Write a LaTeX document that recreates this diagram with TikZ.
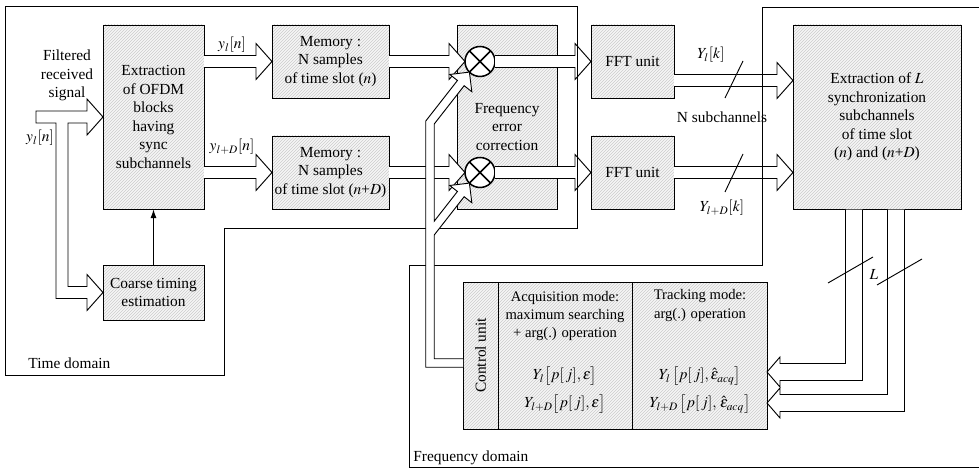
\documentclass[tikz,border=0pt]{standalone}
\usepackage{mathptmx}
\usepackage{fontspec}
\setmainfont{Liberation Serif}
\usetikzlibrary{arrows.meta,positioning,calc}
\newcommand{\pxl}{0.65pt}
\tikzset{
  hatch/.style={path picture={
    \foreach \k in {0,3,...,420}
      \draw[gray!40, line width=0.25pt] ($(path picture bounding box.south west)+(\k-200,0)$) -- ++(200,-200);}},
  box/.style={draw, line width=0.6pt, fill=gray!7, hatch, inner sep=0pt, outer sep=0pt, align=center},
  dims/.style 2 args={minimum width=#1*\pxl, minimum height=#2*\pxl},
  mult/.style={circle, draw, fill=white, line width=1pt, minimum size=30*\pxl, inner sep=0pt, outer sep=0pt},
  harrow/.style={draw, fill=white, line width=0.6pt, line join=miter},
  hollowto/.style={harrow, to path={
    ($(\tikztostart)!3.9pt!90:(\tikztotarget)$)
    -- ($(\tikztotarget)!11.107pt!-20.556:(\tikztostart)$)
    -- ($(\tikztotarget)!15.654pt!-48.366:(\tikztostart)$)
    -- (\tikztotarget)
    -- ($(\tikztotarget)!15.654pt!48.366:(\tikztostart)$)
    -- ($(\tikztotarget)!11.107pt!20.556:(\tikztostart)$)
    -- ($(\tikztostart)!3.9pt!-90:(\tikztotarget)$)}},
  link/.style={-{Latex[length=6pt,width=4pt]}, line width=0.9pt},
  region/.style={line width=0.5pt},
  slash/.style={line width=0.6pt},
  modetext/.style={align=center, font=\fontsize{9.5}{11.8}\selectfont},
  formula/.style={inner sep=0pt},
}
\begin{document}
\begin{tikzpicture}[x=\pxl, y=-\pxl]
\useasboundingbox (0,0) rectangle (979,468);

% blocks
\node[box, dims={101}{184}] (ext) at (153.5,117) {Extraction\\of OFDM\\blocks\\having\\sync\\subchannels};
\node[box, dims={101}{55}] (coarse) at (153.5,292.5) {Coarse timing\\estimation};
\node[box, dims={117}{73}] (memA) at (330.5,61.5) {Memory :\\N samples\\of time slot ($n$)};
\node[box, dims={117}{73}, below=24.7pt of memA] (memB) {Memory :\\N samples\\of time slot ($n$+$D$)};
\node[box, dims={100}{184}] (fec) at (507,117) {};
\node[align=center] (fectxt) at (507,127) {Frequency\\error\\correction};
\node[box, dims={83}{73}] (fftA) at (632.5,61.5) {FFT unit};
\node[box, dims={83}{73}, below=24.7pt of fftA] (fftB) {FFT unit};
\node[box, dims={168}{184}] (extL) at (877,117) {Extraction of $L$\\synchronization\\subchannels\\of time slot\\($n$) and ($n$+$D$)};
\node[box, dims={35}{147}] (cu) at (480.5,355.5) {};
\node[rotate=90] (cutxt) at (cu) {Control unit};
\node[box, dims={134}{147}, right=0pt of cu] (acq) {};
\node[box, dims={135}{147}, right=0pt of acq] (trk) {};
\node[modetext] (acqtxt) at (565,316) {Acquisition mode:\\maximum searching\\+ arg(.) operation};
\node[formula] (acqA) at (565,376) {$Y_l\big[p[\,j],\varepsilon\big]$};
\node[formula] (acqB) at (565,404) {$Y_{l+D}\big[p[\,j],\varepsilon\big]$};
\node[modetext] (trktxt) at (700,305.5) {Tracking mode:\\arg(.) operation};
\node[formula] (trkA) at (700,376) {$Y_l\,\big[p[\,j],\hat{\varepsilon}_{acq}\big]$};
\node[formula] (trkB) at (700,404) {$Y_{l+D}\,\big[p[\,j],\,\hat{\varepsilon}_{acq}\big]$};

% multipliers
\node[mult] (mulA) at (480,61.5) {};
\node[mult] (mulB) at (480,172.5) {};
\foreach \mulname in {mulA,mulB}
  \draw[line width=1pt] (\mulname.north west) -- (\mulname.south east) (\mulname.north east) -- (\mulname.south west);

% input signal into both front blocks
\coordinate (sigin) at ($(ext.west)+(-67,0)$);
\coordinate (sigsplit) at ($(sigin)+(26,0)$);
\filldraw[harrow] ($(sigin)+(0,-6)$) -- ($(ext.west)+(-16,-6)$) -- ($(ext.west)+(-16,-18)$) -- (ext.west)
  -- ($(ext.west)+(-16,18)$) -- ($(ext.west)+(-16,6)$) -- ($(sigsplit)+(6,6)$) |- ($(coarse.west)+(-16,-6)$)
  -- ($(coarse.west)+(-16,-18)$) -- (coarse.west) -- ($(coarse.west)+(-16,18)$) -- ($(coarse.west)+(-16,6)$)
  -| ($(sigsplit)+(-6,6)$) -- ($(sigin)+(0,6)$) -- cycle;
\draw[link] (coarse) -- (ext);

% front block to memories, memories to multipliers, multipliers to FFT
\path[hollowto] (ext.east |- memA.west) to (memA.west);
\path[hollowto] (ext.east |- memB.west) to (memB.west);
\foreach \src/\mul/\dst in {memA/mulA/fftA, memB/mulB/fftB}{
  \path[hollowto] (\src.east) to (\mul.west);
  \path[hollowto] (\mul.east) to (\dst.west);
}

% FFT outputs into the extraction of L subchannels
\coordinate (kout) at ($(fftA.east)+(0,19)$);
\path[hollowto] (kout) to (kout -| extL.west);
\path[hollowto] (fftB.east) to (fftB.east -| extL.west);

% time and frequency domains
\draw[region] (5,6) -- (577,6) -- (577,228) -- (224,228) -- (224,375) -- (5,375) -- cycle;
\draw[region] (979,7) -- (762,7) -- (762,265) -- (409,265) -- (409,467) -- (979,467);
\node[anchor=west] (tdom) at (23,363) {Time domain};
\node[anchor=west] (fdom) at (408,458) {Frequency domain};

% L subchannels down to the tracking stage
\coordinate (lA) at ($(extL.south)+(-23,0)$);
\coordinate (lB) at ($(extL.south)+(19,0)$);
\filldraw[harrow] ($(lA)+(-8.5,0.5)$) |- ($(trk.east)+(13,8)$) -- ($(trk.east)+(13,1.5)$) -- ($(trk.east)+(0,16.5)$)
  -- ($(trk.east)+(13,31.5)$) -- ($(trk.east)+(13,25)$) -| ($(lA)+(8.5,0.5)$);
\filldraw[harrow] ($(lB)+(-8.5,0.5)$) |- ($(trk.east)+(13,39)$) -- ($(trk.east)+(13,32.5)$) -- ($(trk.east)+(0,47.5)$)
  -- ($(trk.east)+(13,62.5)$) -- ($(trk.east)+(13,56)$) -| ($(lB)+(8.5,0.5)$);

% feedback from the control unit to both multipliers
\coordinate (fb) at ($(cu.west)+(-33,7.5)$);
\filldraw[harrow] ($(cu.west)+(0,3.25)$) -- ($(fb)+(4.25,-4.25)$) -- (434.25,234.97) -- (464.15,196.72)
  -- (471.83,202.72) -- (mulB.south west) -- (449.77,185.48) -- (457.45,191.48) -- (434.25,221.16)
  -- (434.25,123.97) -- (464.15,85.72) -- (471.83,91.72) -- (mulA.south west) -- (449.77,74.48)
  -- (457.45,80.48) -- (425.75,121.03) -- ($(fb)+(-4.25,4.25)$) -- ($(cu.west)+(0,11.75)$);

% bus marks
\draw[slash] (725,98) -- (743,61);
\draw[slash] (725,192) -- (743,154);
\draw[slash] (828,283) -- (873,257);
\draw[slash] (877,285) -- (922,259);

% signal labels
\node[align=center] (sig) at (67,75.5) {Filtered\\received\\signal};
\node (yin) at (40,138) {$y_l[n]$};
\node (ynA) at (232,45) {$y_l[n]$};
\node (ynB) at (232,147) {$y_{l+D}[n]$};
\node (YkA) at (711,55) {$Y_l[k]$};
\node (nsub) at (722,117) {N subchannels};
\node (YkB) at (722,208) {$Y_{l+D}[k]$};
\node (nL) at (874,275) {$L$};
\end{tikzpicture}
\end{document}
